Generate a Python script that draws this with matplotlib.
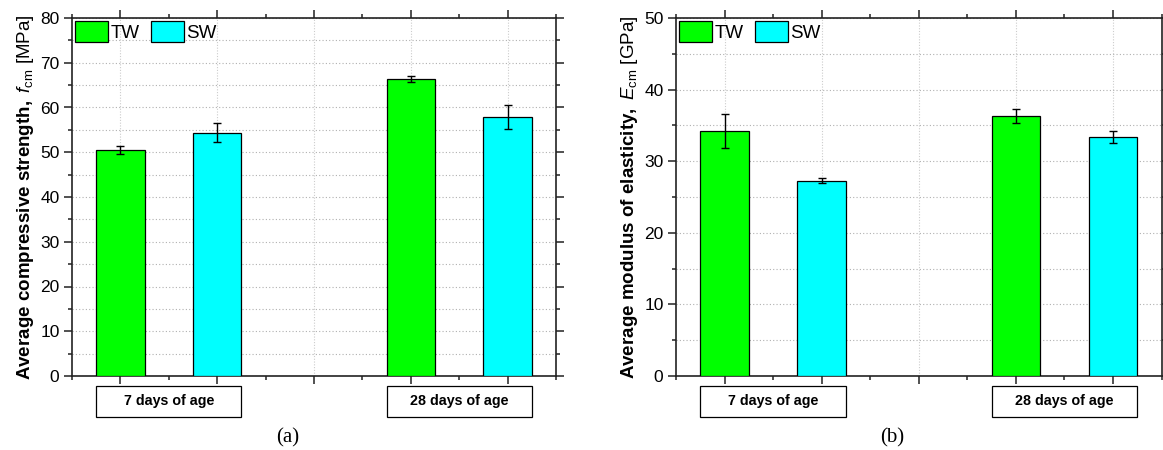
import matplotlib
matplotlib.use("Agg")
import matplotlib.pyplot as plt
from matplotlib.patches import Rectangle
from matplotlib.ticker import MultipleLocator
import matplotlib.transforms as mtransforms

# ---- data ----
ages = ["7 days of age", "28 days of age"]
series = ["TW", "SW"]
colors = ["#00FF00", "#00FFFF"]

fcm_TW = [50.5, 66.4]
fcm_SW = [54.4, 57.9]
fcm_TW_err = [0.9, 0.6]
fcm_SW_err = [2.2, 2.6]

ecm_TW = [34.2, 36.3]
ecm_SW = [27.3, 33.4]
ecm_TW_err = [2.4, 0.95]
ecm_SW_err = [0.4, 0.85]

panel_labels = ["(a)", "(b)"]
ylabels = [
    r"$\mathbf{Average\ compressive\ strength,}$ $\mathit{f}_{\mathrm{cm}}$ [MPa]",
    r"$\mathbf{Average\ modulus\ of\ elasticity,}$ $\mathit{E}_{\mathrm{cm}}$ [GPa]",
]
ylims = [(0, 80), (0, 50)]
ymajor = [10, 10]
yminor = [5, 5]

plt.rcParams["font.family"] = ["Liberation Sans", "DejaVu Sans"]
plt.rcParams["mathtext.fontset"] = "custom"
plt.rcParams["mathtext.rm"] = "Liberation Sans"
plt.rcParams["mathtext.it"] = "Liberation Sans:italic"
plt.rcParams["mathtext.bf"] = "Liberation Sans:bold"

W, H = 1163, 450
fig = plt.figure(figsize=(W / 100, H / 100), dpi=100)

def px_axes(l, t, r, b):
    return fig.add_axes([l / W, 1 - b / H, (r - l) / W, (b - t) / H])

axes = [px_axes(72, 18, 556, 376), px_axes(676, 18, 1161.5, 376)]

# group positions: TW/SW for each age, with an empty slot between groups
positions = {"TW": [1, 4], "SW": [2, 5]}
bar_w = 0.5

data = [
    ({"TW": fcm_TW, "SW": fcm_SW}, {"TW": fcm_TW_err, "SW": fcm_SW_err}),
    ({"TW": ecm_TW, "SW": ecm_SW}, {"TW": ecm_TW_err, "SW": ecm_SW_err}),
]

for i, ax in enumerate(axes):
    vals, errs = data[i]
    handles = []
    for s, c in zip(series, colors):
        b = ax.bar(positions[s], vals[s], width=bar_w, color=c, edgecolor="black",
                   linewidth=0.9, zorder=3, label=s)
        ax.errorbar(positions[s], vals[s], yerr=errs[s], fmt="none", ecolor="black",
                    elinewidth=1.0, capsize=3, capthick=1.0, zorder=4)
        handles.append(b)
    ax.set_xlim(0.5, 5.5)
    ax.set_ylim(*ylims[i])
    ax.xaxis.set_major_locator(MultipleLocator(1))
    ax.xaxis.set_minor_locator(MultipleLocator(0.5))
    ax.yaxis.set_major_locator(MultipleLocator(ymajor[i]))
    ax.yaxis.set_minor_locator(MultipleLocator(yminor[i]))
    ax.tick_params(axis="both", which="both", direction="out", top=True, right=True,
                   labelbottom=False, labelsize=12.5, width=1.1, color="#222222", pad=3)
    ax.tick_params(which="major", length=6)
    ax.tick_params(which="minor", length=3)
    for sp in ax.spines.values():
        sp.set_linewidth(1.2)
        sp.set_color("#222222")
    ax.grid(True, which="major", axis="x", color="#cccccc", linestyle=(0, (1, 1.5)), linewidth=0.8, zorder=0)
    ax.grid(True, which="both", axis="y", color="#b0b0b0", linestyle=(0, (1, 2)), linewidth=0.8, zorder=0)
    ax.set_axisbelow(True)
    ax.set_ylabel(ylabels[i], fontsize=13.5, labelpad=3)

    leg = ax.legend(handles=handles, loc="upper left", ncol=2, frameon=False,
                    fontsize=13.5, handlelength=1.75, handleheight=1.35, handletextpad=0.15,
                    columnspacing=0.6, borderaxespad=0.1, borderpad=0.05)
    for p in leg.get_patches():
        p.set_edgecolor("black")

    trans = mtransforms.blended_transform_factory(ax.transData, ax.transAxes)
    for g, age in enumerate(ages):
        x0 = positions["TW"][g] - bar_w / 2
        x1 = positions["SW"][g] + bar_w / 2
        rect = Rectangle((x0, -0.1145), x1 - x0, 0.0865, transform=trans, clip_on=False,
                         facecolor="white", edgecolor="black", linewidth=0.9)
        ax.add_patch(rect)
        ax.text((x0 + x1) / 2, -0.071, age, transform=trans, ha="center", va="center",
                fontsize=10.3, fontweight="bold")

    ax.text(0.445, -0.173, panel_labels[i], transform=ax.transAxes,
            ha="center", va="center", fontsize=15, family=["Liberation Serif"])

fig.savefig("out.png", dpi=100)
